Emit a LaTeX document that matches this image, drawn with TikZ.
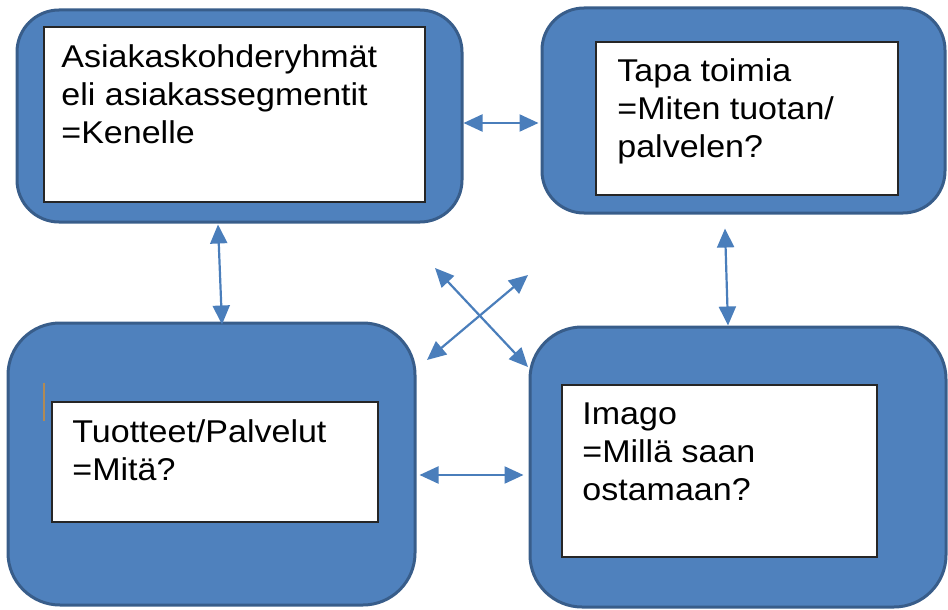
\documentclass[tikz,border=0pt]{standalone}
\usepackage{fontspec}
\setmainfont{Liberation Sans}[FakeStretch=1.08]
\usetikzlibrary{arrows.meta}
\definecolor{boxblue}{HTML}{4F81BD}
\definecolor{boxedge}{HTML}{385D8A}
\definecolor{linkblue}{HTML}{4A7EBB}
\definecolor{markbrown}{HTML}{B08A55}
\tikzset{
  outerbox/.style={draw=boxedge, fill=boxblue, line width=3pt, inner sep=0pt},
  innerbox/.style={draw=black!85, fill=white, line width=1.6pt, inner sep=0pt},
  boxtext/.style={anchor=north west, inner sep=0pt, align=left, font=\fontsize{31.5}{38}\selectfont},
  link/.style={draw=linkblue, line width=2.2pt, {Triangle[length=19pt,width=17pt]}-{Triangle[length=19pt,width=17pt]}}
}
\begin{document}
\begin{tikzpicture}[x=1pt, y=-1pt]
\useasboundingbox (0,0) rectangle (948,610);
\node[outerbox, rounded corners=42pt, minimum width=445pt, minimum height=212pt] (blue1) at (239.5,116) {};
\node[outerbox, rounded corners=42pt, minimum width=403pt, minimum height=205pt] (blue2) at (743.5,110.5) {};
\node[outerbox, rounded corners=52pt, minimum width=407pt, minimum height=282pt] (blue3) at (211.5,464) {};
\node[outerbox, rounded corners=52pt, minimum width=416pt, minimum height=280pt] (blue4) at (738,467) {};
\node[innerbox, minimum width=381pt, minimum height=175pt] (white1) at (234.5,114.5) {};
\node[innerbox, minimum width=302pt, minimum height=153pt] (white2) at (747,118.5) {};
\node[innerbox, minimum width=326pt, minimum height=120pt] (white3) at (215,462) {};
\node[innerbox, minimum width=315pt, minimum height=172pt] (white4) at (719.5,471) {};
\node[boxtext] (text1) at ([xshift=18pt, yshift=-18.5pt]white1.north west) {Asiakaskohderyhmät\\eli asiakassegmentit\\=Kenelle};
\node[boxtext] (text2) at ([xshift=22pt, yshift=-17.5pt]white2.north west) {Tapa toimia\\=Miten tuotan/\\palvelen?};
\node[boxtext] (text3) at ([xshift=21pt, yshift=-18.5pt]white3.north west) {Tuotteet/Palvelut\\=Mitä?};
\node[boxtext] (text4) at ([xshift=21pt, yshift=-18.5pt]white4.north west) {Imago\\=Millä saan\\ostamaan?};
% cursor mark
\draw[markbrown, line width=2pt] (44,383) -- (44,421);
% connectors
\draw[link] ([yshift=-7pt]blue1.east) -- ([yshift=-7pt, xshift=-2pt]blue1.east -| blue2.west);
\draw[link] ([xshift=-21.5pt, yshift=-1pt]blue1.south) -- ([xshift=10.5pt, yshift=-3pt]blue3.north);
\draw[link] ([xshift=-18.5pt, yshift=-14pt]blue2.south) -- ([xshift=-10pt]blue4.north);
\draw[link] ([xshift=3pt, yshift=-11pt]blue3.east) -- ([xshift=-5pt, yshift=-8pt]blue4.west);
\coordinate (crossA) at (435,268);
\coordinate (crossB) at (528,367);
\coordinate (crossC) at (427,360);
\coordinate (crossD) at (528,275);
\draw[link] (crossA) -- (crossB);
\draw[link] (crossC) -- (crossD);
\end{tikzpicture}
\end{document}
